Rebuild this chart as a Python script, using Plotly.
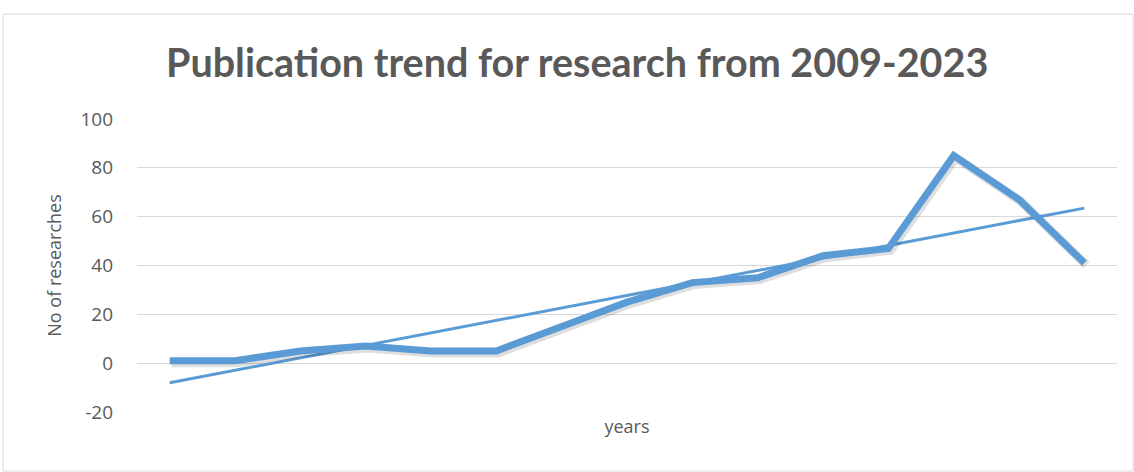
import numpy as np
import plotly.graph_objects as go

years = [str(y) for y in range(2009, 2024)]
researches = [1, 1, 5, 7, 5, 5, 15, 25, 33, 35, 44, 47, 85, 67, 41]
y_ticks = [-20, 0, 20, 40, 60, 80, 100]
y_tick_text = ["-20", "0", "20", "40", "60", "80", "100"]

idx = np.arange(len(years))
slope, intercept = np.polyfit(idx + 1, researches, 1)
trend = slope * (idx + 1) + intercept

blue = "#5B9BD5"
grey = "#595959"
font_body = "Open Sans, sans-serif"

fig = go.Figure()
fig.add_trace(go.Scatter(x=years, y=trend, mode="lines",
                         line=dict(color=blue, width=3), name="Linear trend",
                         showlegend=False))
# soft shadow under the main line (slightly offset overlay axes)
fig.add_trace(go.Scatter(x=years, y=researches, mode="lines", xaxis="x2", yaxis="y2",
                         line=dict(color="rgba(0,0,0,0.13)", width=9), hoverinfo="skip",
                         showlegend=False))
fig.add_trace(go.Scatter(x=years, y=researches, mode="lines", xaxis="x3", yaxis="y3",
                         line=dict(color=blue, width=7), name="No of researches",
                         showlegend=False))

fig.update_layout(
    width=1134, height=472,
    margin=dict(l=137, r=17, t=119, b=60),
    paper_bgcolor="white", plot_bgcolor="white",
    title=dict(text="<b>Publication trend for research from 2009-2023</b>",
               x=0.509, xanchor="center", y=0.866, yanchor="middle",
               font=dict(family="Lato, Open Sans, sans-serif", size=39.5, color=grey)),
    xaxis=dict(type="category", categoryarray=years, range=[-0.5, 14.5], showticklabels=False,
               showgrid=False, zeroline=False, showline=False, ticks="",
               title=dict(text="years", font=dict(family=font_body, size=18, color=grey),
                          standoff=8)),
    yaxis=dict(range=[-20, 100], tickvals=y_ticks, ticktext=y_tick_text, showgrid=True,
               gridcolor="#D9D9D9", gridwidth=1, zeroline=False, showline=False, ticks="",
               tickfont=dict(family=font_body, size=19, color=grey),
               ticklabelstandoff=23,
               title=dict(text="No of researches", font=dict(family=font_body, size=18, color=grey),
                          standoff=14)),
    xaxis2=dict(type="category", categoryarray=years, overlaying="x",
                range=[-0.5 - 0.03, 14.5 - 0.03], visible=False),
    yaxis2=dict(overlaying="y", range=[-20 + 0.8, 100 + 0.8], visible=False),
    xaxis3=dict(type="category", categoryarray=years, overlaying="x", range=[-0.5, 14.5], visible=False),
    yaxis3=dict(overlaying="y", range=[-20, 100], visible=False),
    shapes=[dict(type="rect", xref="paper", yref="paper",
                 x0=(3 - 137) / 980, x1=(1133 - 137) / 980,
                 y0=(412 - 471) / 293, y1=(412 - 14) / 293,
                 line=dict(color="#D9D9D9", width=1), fillcolor="rgba(0,0,0,0)", layer="below")],
)

fig.write_html("out.html")
